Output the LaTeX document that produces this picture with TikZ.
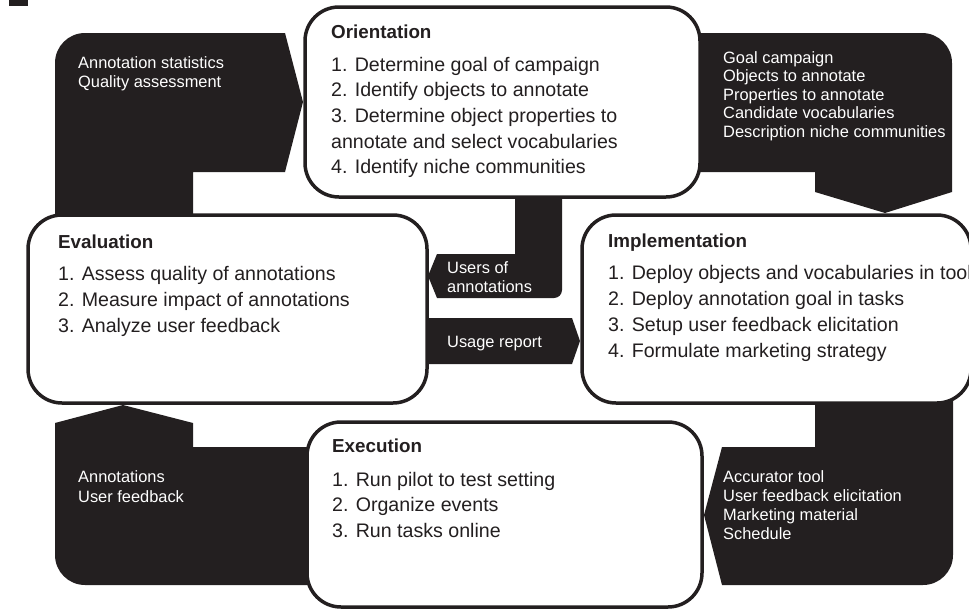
\documentclass[tikz,border=0pt]{standalone}
\usepackage{fontspec}
\setmainfont{Liberation Sans}
\definecolor{ink}{HTML}{231F20}

\begin{document}
\begin{tikzpicture}
[x=1pt, y=-1pt,
% The phase style is used to draw the four phases of the campaign
phase/.style={rectangle, draw=ink, line width=3.5pt, rounded corners=34pt, fill=white, anchor=north west, inner sep=0pt, outer sep=0pt},
% The phasetitle and phaseitem styles are used for the texts in each phase
phasetitle/.style={anchor=base west, inner sep=0pt, text=ink, font=\fontsize{18.8}{22}\selectfont\bfseries},
phaseitem/.style={anchor=base west, inner sep=0pt, text=ink, font=\fontsize{19.6}{24}\selectfont},
% The flowtext style is used for the white texts on the black flows
flowtext/.style={anchor=base west, inner sep=0pt, text=white, font=\fontsize{16.4}{19}\selectfont},
flowband/.style={fill=ink}
]
\useasboundingbox (0,0) rectangle (969,613);
\clip (0,0) rectangle (969,613);

% Draw flows
\fill[flowband] (9,0) rectangle (28,6);
\fill[flowband] (55,230) -- (55,63) .. controls (55,46.4) and (68.4,33) .. (85,33) -- (285,33) -- (303,102) -- (285,172) -- (193,172) -- (193,230) -- cycle;
\fill[flowband] (680,33) -- (922,33) .. controls (938.6,33) and (952,46.4) .. (952,63) -- (952,192) -- (885,213) -- (815,192) -- (815,172) -- (680,172) -- cycle;
\fill[flowband] (515,190) -- (515,254) -- (437,254) -- (428,276) -- (437,298) -- (554,298) .. controls (558.4,298) and (562,294.4) .. (562,290) -- (562,190) -- cycle;
\fill[flowband] (420,318) -- (572,318) -- (580,341) -- (572,364) -- (420,364) -- cycle;
\fill[flowband] (815,395) -- (815,447) -- (722,447) -- (704,515) -- (722,585) -- (923,585) .. controls (939.6,585) and (953,571.6) .. (953,555) -- (953,395) -- cycle;
\fill[flowband] (123,405) -- (193,423) -- (193,447) -- (320,447) -- (320,585) -- (85,585) .. controls (68.4,585) and (55,571.6) .. (55,555) -- (55,423) -- cycle;

% Draw phases
\node[phase, minimum width=395pt, minimum height=190pt] (orient) at (305,7) {};
\node[phase, minimum width=399pt, minimum height=188pt] (eval) at (28,215) {};
\node[phase, minimum width=389pt, minimum height=188pt] (impl) at (582,215) {};
\node[phase, minimum width=395pt, minimum height=185pt] (exec) at (307,422) {};

% Texts of the phases
\node[phasetitle] (orient-t) at (331,38) {Orientation};
\foreach \txt [count=\i] in {1. Determine goal of campaign, 2. Identify objects to annotate, 3. Determine object properties to, annotate and select vocabularies, 4. Identify niche communities}
  \node[phaseitem] (orient-\i) at (331,{71+25.7*(\i-1)}) {\txt};
\node[phasetitle] (eval-t) at (58,248) {Evaluation};
\foreach \txt [count=\i] in {1. Assess quality of annotations, 2. Measure impact of annotations, 3. Analyze user feedback}
  \node[phaseitem] (eval-\i) at (58,{280+26*(\i-1)}) {\txt};
\node[phasetitle] (impl-t) at (608,247) {Implementation};
\foreach \txt [count=\i] in {1. Deploy objects and vocabularies in tools, 2. Deploy annotation goal in tasks, 3. Setup user feedback elicitation, 4. Formulate marketing strategy}
  \node[phaseitem] (impl-\i) at (608,{279+26*(\i-1)}) {\txt};
\node[phasetitle] (exec-t) at (332,452) {Execution};
\foreach \txt [count=\i] in {1. Run pilot to test setting, 2. Organize events, 3. Run tasks online}
  \node[phaseitem] (exec-\i) at (332,{486+25.6*(\i-1)}) {\txt};

% Texts of the flows
\foreach \txt [count=\i] in {Annotation statistics, Quality assessment}
  \node[flowtext] (stats-\i) at (78,{68+19*(\i-1)}) {\txt};
\foreach \txt [count=\i] in {Goal campaign, Objects to annotate, Properties to annotate, Candidate vocabularies, Description niche communities}
  \node[flowtext] (goal-\i) at (723,{63+18.5*(\i-1)}) {\txt};
\foreach \txt [count=\i] in {Users of, annotations}
  \node[flowtext] (users-\i) at (447,{273+19*(\i-1)}) {\txt};
\node[flowtext] (usage) at (447,347) {Usage report};
\foreach \txt [count=\i] in {Accurator tool, User feedback elicitation, Marketing material, Schedule}
  \node[flowtext] (tool-\i) at (723,{482+19.3*(\i-1)}) {\txt};
\foreach \txt [count=\i] in {Annotations, User feedback}
  \node[flowtext] (annot-\i) at (78,{482+20*(\i-1)}) {\txt};
\end{tikzpicture}
\end{document}
